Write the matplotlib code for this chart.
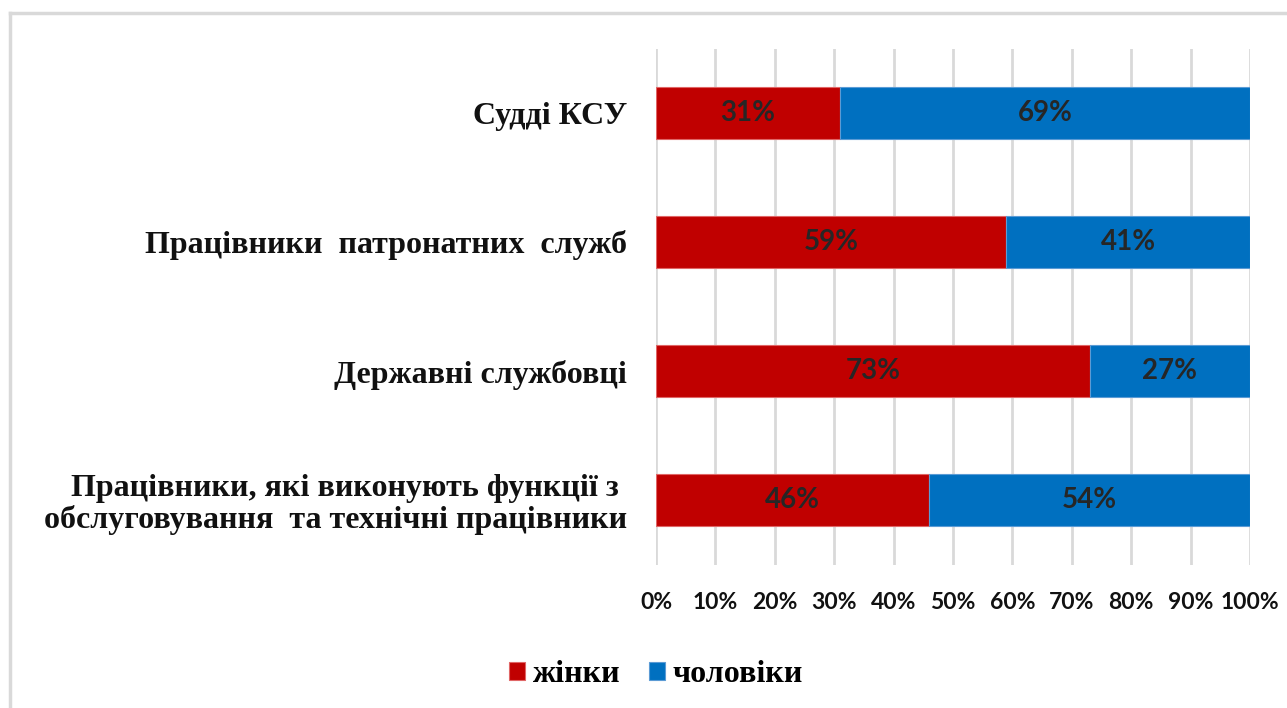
import matplotlib
matplotlib.use("Agg")
import matplotlib.pyplot as plt
import numpy as np

# дані
categories = ["Судді КСУ",
              "Працівники  патронатних  служб",
              "Державні службовці",
              "Працівники, які виконують функції з \nобслуговування  та технічні працівники"]
women = [31, 59, 73, 46]
men = [69, 41, 27, 54]
series_names = ["жінки", "чоловіки"]
colors = ["#C00000", "#0070C0"]

fig = plt.figure(figsize=(12.87, 7.08), dpi=100)
ax = fig.add_axes([656/1287, 1 - 564.5/708, (1250 - 656)/1287, (564.5 - 48.5)/708])

y = np.arange(len(categories))
w = np.array(women) / 100
m = np.array(men) / 100
b1 = ax.barh(y, w, height=0.4, color=colors[0], edgecolor="#e06666", linewidth=0.8, label=series_names[0], zorder=3)
b2 = ax.barh(y, m, left=w, height=0.4, color=colors[1], edgecolor="#5b9bd5", linewidth=0.8, label=series_names[1], zorder=3)

for bars, vals in ((b1, women), (b2, men)):
    for rect, v in zip(bars, vals):
        ax.text(rect.get_x() + rect.get_width()/2, rect.get_y() + rect.get_height()/2,
                f"{v}%", ha="center", va="center", fontsize=20, fontweight="bold",
                family="Lato", color="#262626", zorder=4)

ax.set_ylim(3.5, -0.5)
ax.set_xlim(0, 1)
ax.set_xticks(np.linspace(0, 1, 11))
ax.set_xticklabels([f"{int(t)}%" for t in np.arange(0, 101, 10)], fontsize=16.5,
                   fontweight="bold", family="Lato", color="#111111")
ax.set_yticks(y)
labels = ax.set_yticklabels(categories, fontsize=23, fontweight="bold", family="Liberation Serif",
                            color="#111111", linespacing=1.07)
ax.tick_params(axis="x", length=0, pad=20)
ax.tick_params(axis="y", length=0, pad=21)
ax.grid(axis="x", color="#d9d9d9", linewidth=2, zorder=0)
for s in ax.spines.values():
    s.set_visible(False)

# рамка
fig.add_artist(plt.Line2D([10/1287, 1], [1 - 13/708, 1 - 13/708], color="#d9d9d9", linewidth=2.5, transform=fig.transFigure))
fig.add_artist(plt.Line2D([10/1287, 10/1287], [0, 1 - 13/708], color="#d9d9d9", linewidth=2.5, transform=fig.transFigure))

fig.legend(loc="center", bbox_to_anchor=(656/1287, 1 - 675/708), ncol=2, frameon=False,
           prop={"family": "Liberation Serif", "weight": "bold", "size": 23},
           handlelength=0.5, handleheight=0.5, handletextpad=0.25, columnspacing=0.9)

fig.savefig("out.png", dpi=100)
